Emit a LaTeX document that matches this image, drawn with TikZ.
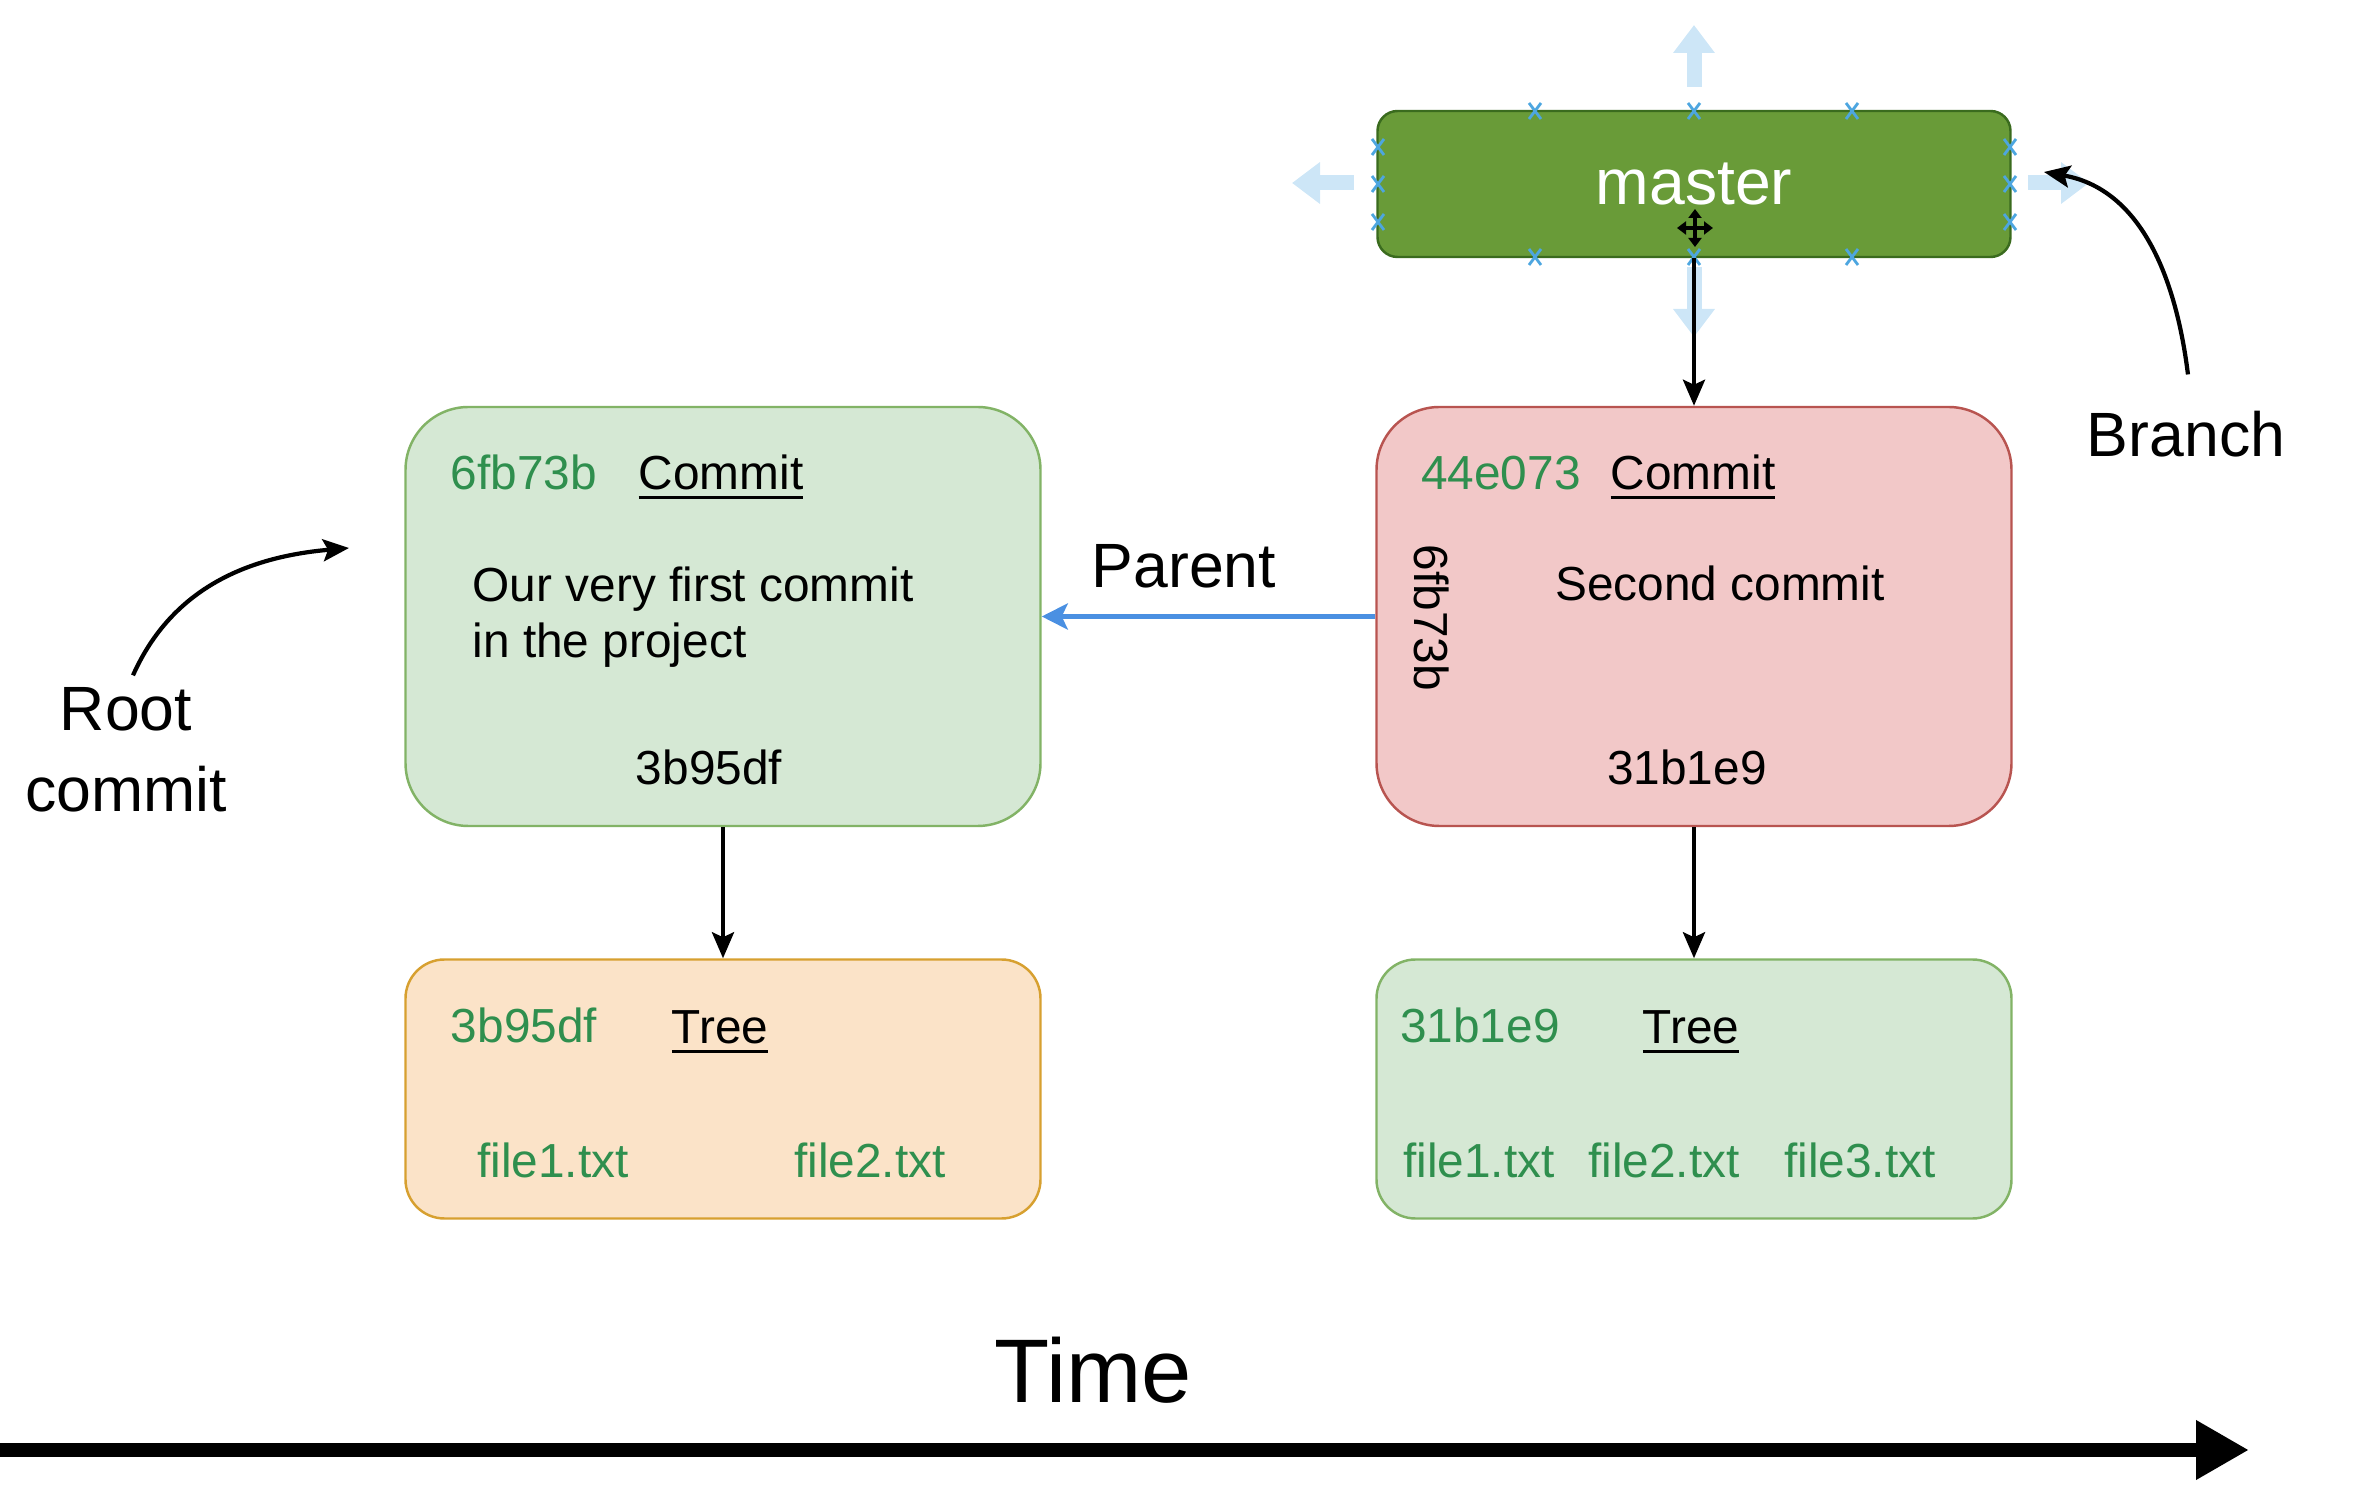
\documentclass[tikz,border=0pt]{standalone}
\usepackage{fontspec}
\setmainfont{Liberation Sans}
\usetikzlibrary{positioning,arrows.meta,calc}
\definecolor{boxgreen}{HTML}{D5E8D4}
\definecolor{edgegreen}{HTML}{82B366}
\definecolor{boxred}{HTML}{F2C8C8}
\definecolor{edgered}{HTML}{B85450}
\definecolor{boxorange}{HTML}{FBE3C8}
\definecolor{edgeorange}{HTML}{D7A030}
\definecolor{masterfill}{HTML}{699B38}
\definecolor{masteredge}{HTML}{3A6B1E}
\definecolor{hashgreen}{HTML}{2F8F4E}
\definecolor{parentblue}{HTML}{4A90E2}
\definecolor{hoverblue}{HTML}{CDE6F7}
\definecolor{markblue}{HTML}{4DA6E0}
\newcommand{\uword}[1]{\leavevmode\vtop{\hbox{#1}\kern1.6pt\hrule height 0.9pt}}
\tikzset{
  commitbox/.style={draw, line width=0.7pt, rounded corners=0.63cm,
    minimum width=6.35cm, minimum height=4.19cm},
  treebox/.style={draw, line width=0.7pt, rounded corners=0.39cm,
    minimum width=6.35cm, minimum height=2.59cm},
  branchbox/.style={draw=masteredge, fill=masterfill, line width=0.7pt, rounded corners=0.2cm,
    minimum width=6.33cm, minimum height=1.46cm, text=white, font=\fontsize{18.3}{22}\selectfont},
  bodytext/.style={inner sep=0pt, anchor=base, font=\fontsize{13.6}{16}\selectfont},
  hashtext/.style={bodytext, text=hashgreen},
  notetext/.style={font=\fontsize{17.8}{23}\selectfont},
  link/.style={line width=1.2pt, -{Stealth[length=0.26cm,width=0.22cm,inset=0.05cm]}},
  parentlink/.style={link, line width=1.5pt, draw=parentblue, -{Stealth[length=0.26cm,width=0.26cm,inset=0.06cm,parentblue]}},
  hover/.style={draw=hoverblue, line width=0.15cm, -{Triangle[length=0.28cm,width=0.4cm]}},
  xmark/.style={draw=markblue, line width=0.8pt}
}

\begin{document}
\begin{tikzpicture}
  \useasboundingbox (0,0) rectangle (23.8,-14.96);
  % handles round the selected branch
  \draw[hover] (16.94,-0.87) -- (16.94,-0.25);
  \draw[hover] (13.54,-1.83) -- (12.92,-1.83);
  \draw[hover] (20.28,-1.83) -- (20.89,-1.83);
  \draw[hover] (16.94,-2.67) -- (16.94,-3.37);
  %
  \node[branchbox] (M) at (16.94,-1.84) {master};
  \foreach \x/\y in {15.35/-1.11,16.94/-1.11,18.52/-1.11,15.35/-2.57,16.94/-2.57,18.52/-2.57,
      13.78/-1.47,13.78/-1.84,13.78/-2.22,20.10/-1.47,20.10/-1.84,20.10/-2.22}
    \draw[xmark] (\x,\y) +(-0.06,-0.08) -- +(0.06,0.08) +(-0.06,0.08) -- +(0.06,-0.08);
  \draw[line width=1.1pt, {Triangle[length=0.09cm,width=0.13cm]}-{Triangle[length=0.09cm,width=0.13cm]}]
    (16.95,-2.09) -- (16.95,-2.47);
  \draw[line width=1.1pt, {Triangle[length=0.09cm,width=0.13cm]}-{Triangle[length=0.09cm,width=0.13cm]}]
    (16.77,-2.28) -- (17.13,-2.28);
  % commits
  \node[commitbox, fill=boxgreen, draw=edgegreen] (C1) at (7.23,-6.165) {};
  \node[commitbox, fill=boxred, draw=edgered] (C2) at (16.94,-6.165) {};
  \node[hashtext] (c1hash) at (5.24,-4.90) {6fb73b};
  \node[bodytext] (c1head) at (7.21,-4.90) {\uword{Commit}};
  \node[bodytext, anchor=west, align=left] (c1msg) at (4.72,-6.17) {Our very first commit\\in the project};
  \node[bodytext] (c1tree) at (7.09,-7.85) {3b95df};
  \node[hashtext] (c2hash) at (15.01,-4.90) {44e073};
  \node[bodytext] (c2head) at (16.93,-4.90) {\uword{Commit}};
  \node[bodytext, anchor=center, rotate=-90] (c2parent) at (14.32,-6.18) {6fb73b};
  \node[bodytext] (c2msg) at (17.20,-6.01) {Second commit};
  \node[bodytext] (c2tree) at (16.87,-7.85) {31b1e9};
  % trees
  \node[treebox, fill=boxorange, draw=edgeorange] (T1) at (7.23,-10.89) {};
  \node[treebox, fill=boxgreen, draw=edgegreen] (T2) at (16.94,-10.89) {};
  \node[hashtext] (t1hash) at (5.24,-10.43) {3b95df};
  \node[bodytext] (t1head) at (7.20,-10.44) {\uword{Tree}};
  \node[hashtext] (t1fa) at (5.53,-11.78) {file1.txt};
  \node[hashtext] (t1fb) at (8.70,-11.78) {file2.txt};
  \node[hashtext] (t2hash) at (14.80,-10.43) {31b1e9};
  \node[bodytext] (t2head) at (16.91,-10.44) {\uword{Tree}};
  \node[hashtext] (t2fa) at (14.79,-11.78) {file1.txt};
  \node[hashtext] (t2fb) at (16.64,-11.78) {file2.txt};
  \node[hashtext] (t2fc) at (18.60,-11.78) {file3.txt};
  %
  \draw[link] (M.south) -- (C2.north);
  \draw[link] (C1.south) -- (T1.north);
  \draw[link] (C2.south) -- (T2.north);
  \draw[parentlink] (C2.west) -- (C1.east);
  \node[notetext, anchor=base] (P) at (11.84,-5.88) {Parent};
  % notes
  \node[notetext, align=center] (RC) at (1.26,-7.50) {Root\\commit};
  \coordinate (rootend) at (3.49,-5.48);
  \draw[link] ([xshift=0.07cm]RC.north) to[out=66,in=185] (rootend);
  \node[notetext, anchor=base] (B) at (21.86,-4.57) {Branch};
  \coordinate (branchend) at (20.44,-1.72);
  \draw[link, shorten <=0.25cm] ([xshift=0.05cm]B.north) to[out=97,in=-10] (branchend);
  % time line
  \coordinate (ts) at (0,-14.50);
  \coordinate (te) at (22.49,-14.50);
  \draw[line width=0.14cm, -{Triangle[length=0.53cm,width=0.56cm]}] (ts) -- (te);
  \node[notetext, font=\fontsize{25.7}{30}\selectfont, anchor=base] (TM) at (10.93,-14.03) {Time};
\end{tikzpicture}
\end{document}
